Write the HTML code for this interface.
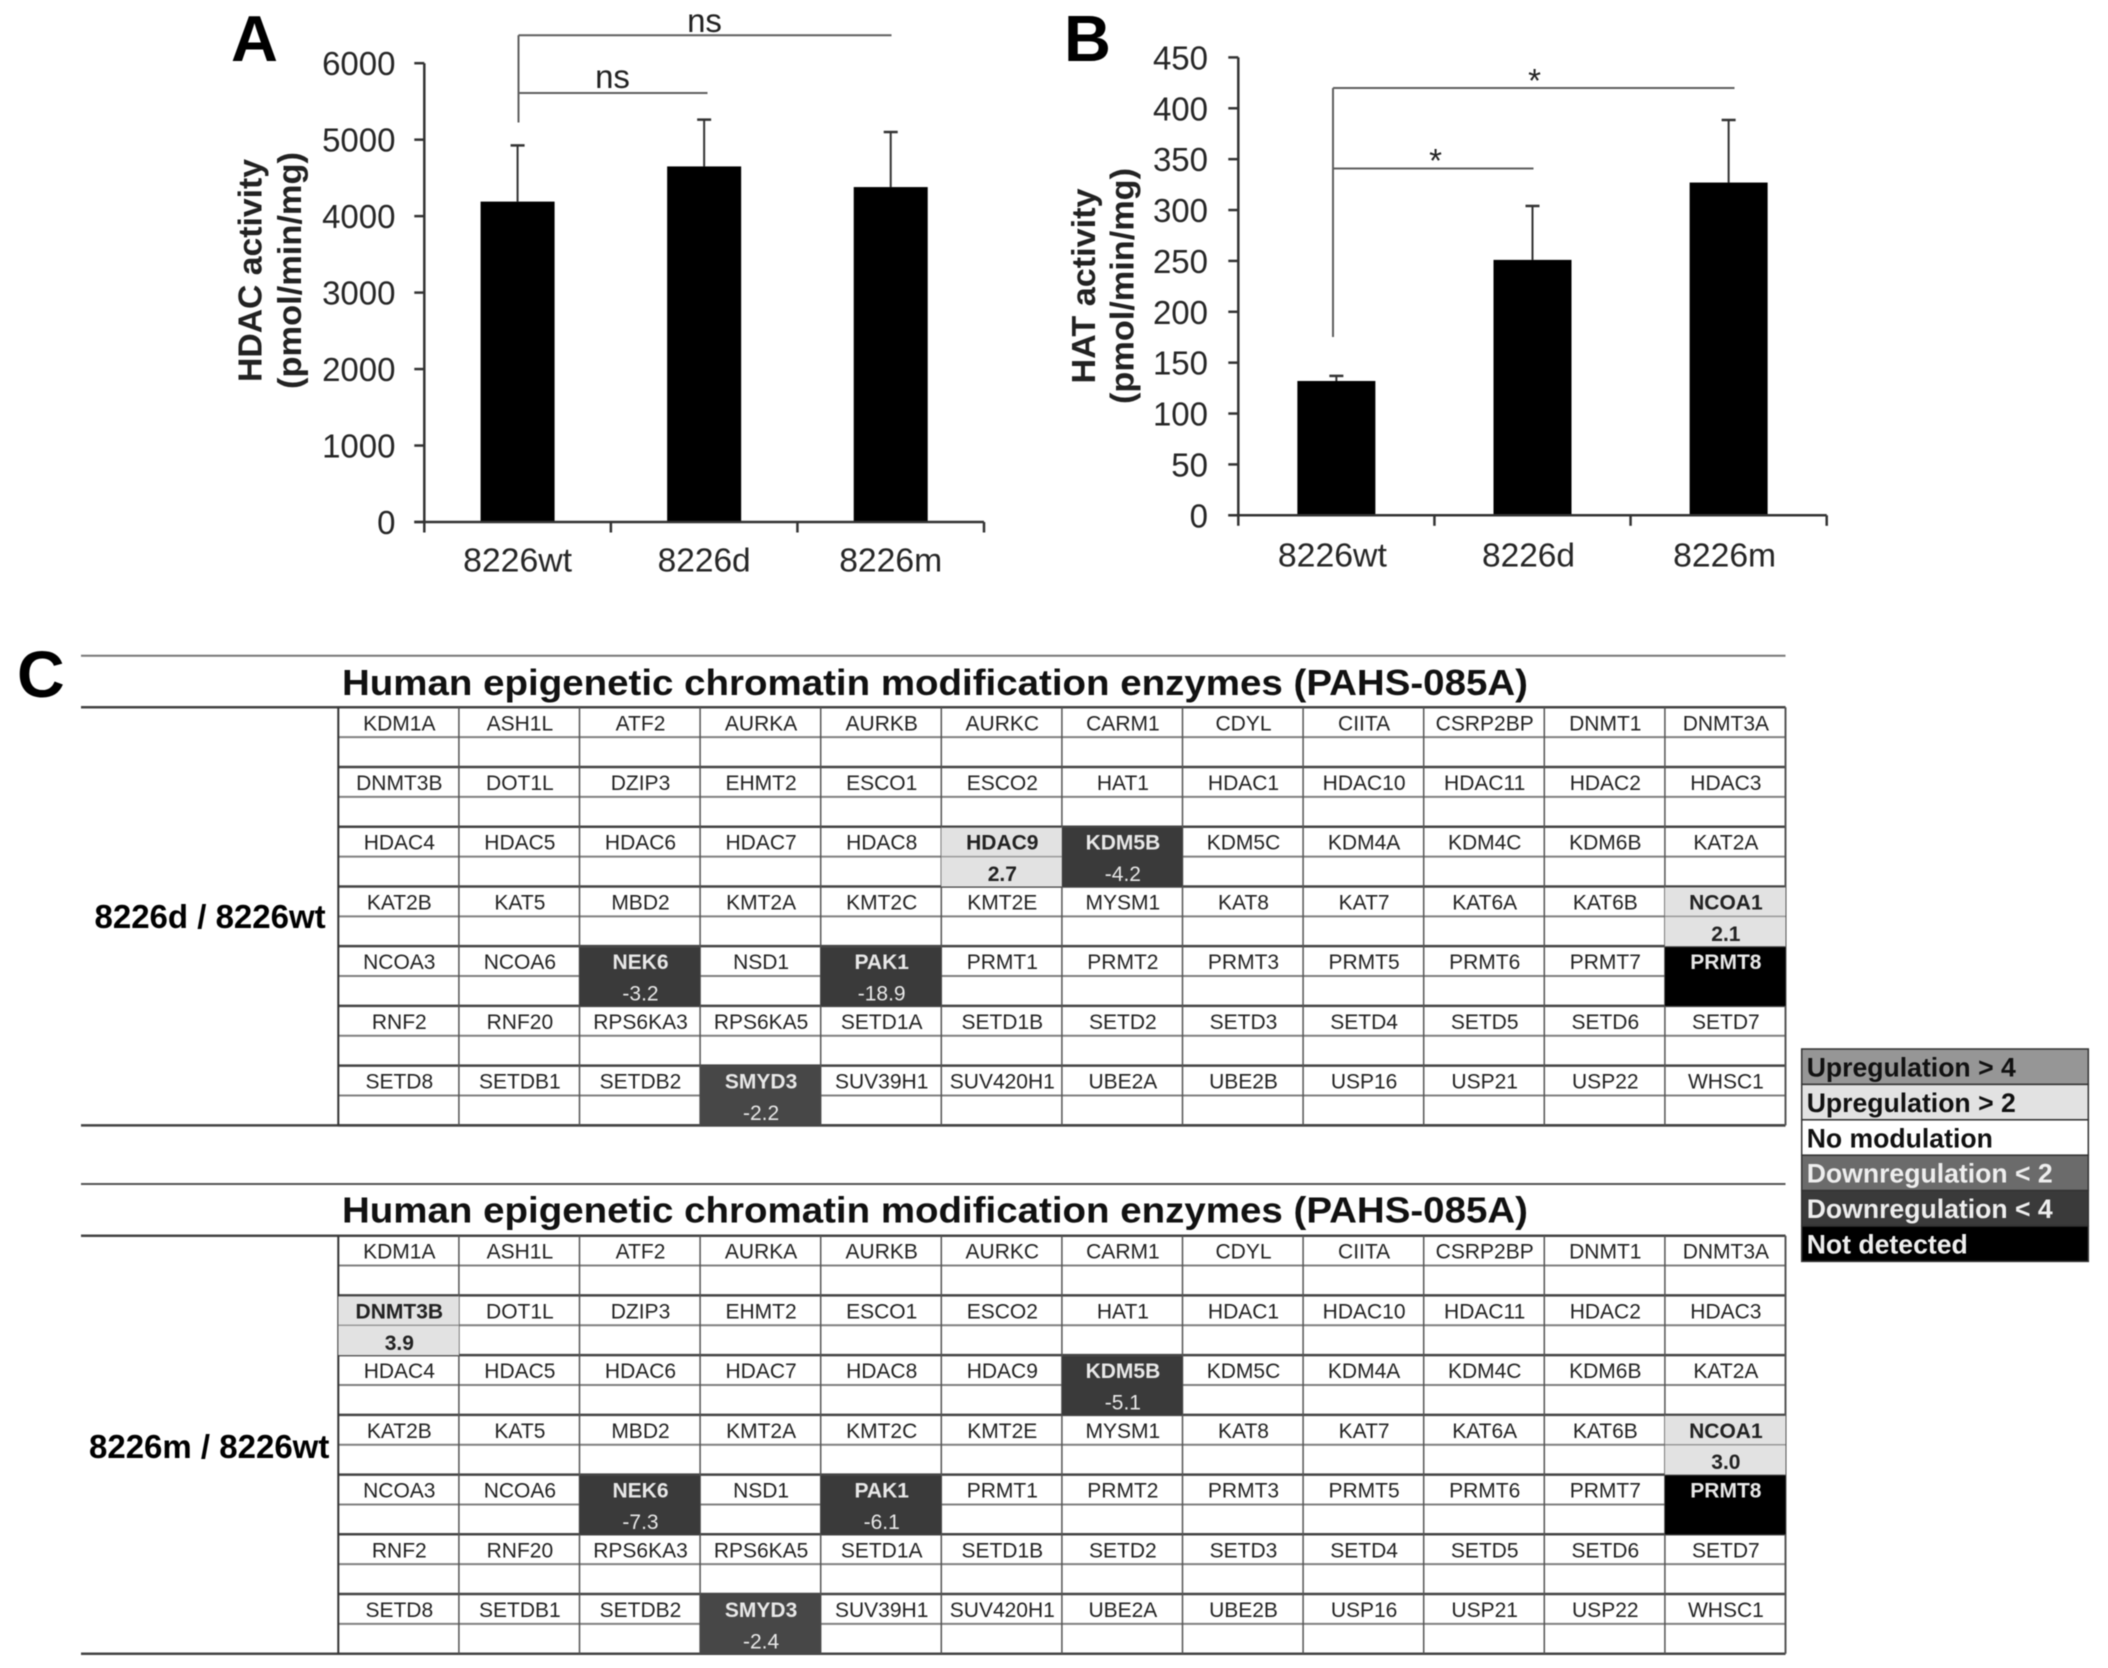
<!DOCTYPE html>
<html lang="en">
<head>
<meta charset="utf-8">
<title>HDAC and HAT activity with epigenetic enzyme array</title>
<style>
html,body{margin:0;padding:0;background:#fff;width:2108px;height:1668px;overflow:hidden}
svg{display:block;font-family:"Liberation Sans",Arial,sans-serif;filter:blur(0.6px)}
</style>
</head>
<body>
<svg id="fig" xmlns="http://www.w3.org/2000/svg" width="2108" height="1668" viewBox="0 0 2108 1668">
<rect width="2108" height="1668" fill="#fff"/>
<text x="231" y="61" font-size="65" font-weight="bold">A</text>
<text x="1064" y="61" font-size="65" font-weight="bold">B</text>
<text x="17" y="697" font-size="66" font-weight="bold">C</text>
</svg>
<script>
const chartACategories = ['8226wt', '8226d', '8226m'];
const chartAValues = [4190, 4650, 4380];
const chartAErrors = [735, 612, 720];
const chartATicks = [0, 1000, 2000, 3000, 4000, 5000, 6000];

const chartBCategories = ['8226wt', '8226d', '8226m'];
const chartBValues = [132, 251, 327];
const chartBErrors = [5, 53, 61.5];
const chartBTicks = [0, 50, 100, 150, 200, 250, 300, 350, 400, 450];

const enzymeGenes = [
'KDM1A','ASH1L','ATF2','AURKA','AURKB','AURKC','CARM1','CDYL','CIITA','CSRP2BP','DNMT1','DNMT3A',
'DNMT3B','DOT1L','DZIP3','EHMT2','ESCO1','ESCO2','HAT1','HDAC1','HDAC10','HDAC11','HDAC2','HDAC3',
'HDAC4','HDAC5','HDAC6','HDAC7','HDAC8','HDAC9','KDM5B','KDM5C','KDM4A','KDM4C','KDM6B','KAT2A',
'KAT2B','KAT5','MBD2','KMT2A','KMT2C','KMT2E','MYSM1','KAT8','KAT7','KAT6A','KAT6B','NCOA1',
'NCOA3','NCOA6','NEK6','NSD1','PAK1','PRMT1','PRMT2','PRMT3','PRMT5','PRMT6','PRMT7','PRMT8',
'RNF2','RNF20','RPS6KA3','RPS6KA5','SETD1A','SETD1B','SETD2','SETD3','SETD4','SETD5','SETD6','SETD7',
'SETD8','SETDB1','SETDB2','SMYD3','SUV39H1','SUV420H1','UBE2A','UBE2B','USP16','USP21','USP22','WHSC1'];
const foldChangeD = {HDAC9: '2.7', KDM5B: '-4.2', NCOA1: '2.1', NEK6: '-3.2', PAK1: '-18.9', SMYD3: '-2.2'};
const foldChangeM = {DNMT3B: '3.9', KDM5B: '-5.1', NCOA1: '3.0', NEK6: '-7.3', PAK1: '-6.1', SMYD3: '-2.4'};
const notDetectedGenes = ['PRMT8'];
const legendLabels = ['Upregulation > 4', 'Upregulation > 2', 'No modulation', 'Downregulation < 2', 'Downregulation < 4', 'Not detected'];

const svg = document.getElementById('fig');
const NS = 'http://www.w3.org/2000/svg';
function mk(tag, attrs, text) {
  const el = document.createElementNS(NS, tag);
  for (const k in attrs) el.setAttribute(k, attrs[k]);
  if (text !== undefined) el.textContent = text;
  svg.appendChild(el);
  return el;
}

function drawChart(c) {
  const yScale = v => c.y0 - (v / c.yMax) * (c.y0 - c.yTop);
  const band = (c.x1 - c.x0) / c.categories.length;
  const xCenter = i => c.x0 + (i + 0.5) * band;

  c.values.forEach((v, i) => {
    const bar = mk('rect', {x: xCenter(i) - c.barW / 2, y: yScale(v), width: c.barW, height: c.y0 - yScale(v), fill: '#000'});
    
    
    const top = yScale(v + c.errors[i]);
    const cx = xCenter(i);
    const stem = mk('line', {x1: cx, x2: cx, y1: yScale(v), y2: top, stroke: '#333', 'stroke-width': 2});
    
    
    const cap = mk('line', {x1: cx - 7, x2: cx + 7, y1: top, y2: top, stroke: '#333', 'stroke-width': 2.5});
    
    
    const lab = mk('text', {x: xCenter(i) + c.labelShift, y: c.labelY, 'font-size': 33, fill: '#262626', 'text-anchor': 'middle', 'textLength': c.labelW[i], lengthAdjust: 'spacingAndGlyphs'}, c.categories[i]);
    
    
  });

  const yAxis = mk('line', {x1: c.x0, x2: c.x0, y1: c.yTop, y2: c.y0 + 10.5, stroke: '#333', 'stroke-width': 2.5});
  
  
  const xAxis = mk('line', {x1: c.x0 - 10, x2: c.x1, y1: c.y0, y2: c.y0, stroke: '#333', 'stroke-width': 2.5});
  
  

  for (let i = 1; i <= c.categories.length; i++) {
    const tx = c.x0 + i * band;
    const t = mk('line', {x1: tx, x2: tx, y1: c.y0, y2: c.y0 + 10.5, stroke: '#333', 'stroke-width': 2.5});
    
    
  }
  c.ticks.forEach(v => {
    const t = mk('line', {x1: c.x0 - 10, x2: c.x0, y1: yScale(v), y2: yScale(v), stroke: '#333', 'stroke-width': 2.5});
    
    
    const l = mk('text', {x: c.tickRight, y: yScale(v) + 12, 'font-size': 33, fill: '#262626', 'text-anchor': 'end'}, String(v));
    
    
  });

  c.titles.forEach((s, i) => {
    const tt = mk('text', {transform: 'translate(' + c.titleX[i] + ',' + c.titleY + ') rotate(-90)', 'font-size': 33, 'font-weight': 'bold', fill: '#222', 'text-anchor': 'middle', textLength: c.titleLen[i], lengthAdjust: 'spacingAndGlyphs'}, s);
    
    
  });

  c.brackets.forEach(b => {
    const h = mk('line', {x1: c.bracketX, x2: b.x2, y1: b.y, y2: b.y, stroke: '#5f5f5f', 'stroke-width': 2});
    
    
    const m = mk('text', {x: b.lx, y: b.ly, 'font-size': b.size, fill: '#222', 'text-anchor': 'middle'}, b.text);
    
    
  });
  const v = mk('line', {x1: c.bracketX, x2: c.bracketX, y1: c.brackets[0].y, y2: c.bracketEnd, stroke: '#5f5f5f', 'stroke-width': 2});
  
  
}

drawChart({
  id: 'hdac-chart', categories: chartACategories, values: chartAValues, errors: chartAErrors, ticks: chartATicks,
  x0: 424.3, x1: 984, y0: 522, yTop: 63.2, yMax: 6000, barW: 74, labelY: 571.5, labelShift: 0, labelW: [109, 93, 103],
  tickRight: 395.5, titles: ['HDAC activity', '(pmol/min/mg)'], titleX: [261.5, 301], titleLen: [223, 237], titleY: 270.5,
  bracketX: 518.5, bracketEnd: 122.5,
  brackets: [
    {x2: 891.5, y: 35.2, text: 'ns', lx: 704.5, ly: 32, size: 33},
    {x2: 707.5, y: 93, text: 'ns', lx: 612.5, ly: 88, size: 33}
  ]
});
drawChart({
  id: 'hat-chart', categories: chartBCategories, values: chartBValues, errors: chartBErrors, ticks: chartBTicks,
  x0: 1238.3, x1: 1826.7, y0: 515.3, yTop: 57.4, yMax: 450, barW: 78, labelY: 566.5, labelShift: -4, labelW: [109, 93, 103],
  tickRight: 1208, titles: ['HAT activity', '(pmol/min/mg)'], titleX: [1095, 1133.5], titleLen: [195, 236], titleY: 286,
  bracketX: 1333, bracketEnd: 337,
  brackets: [
    {x2: 1734.5, y: 88, text: '*', lx: 1534.5, ly: 92, size: 33},
    {x2: 1533.5, y: 168.5, text: '*', lx: 1435.5, ly: 172, size: 33}
  ]
});

function fillFor(gene, fold) {
  if (notDetectedGenes.includes(gene)) return '#000';
  if (fold === undefined) return null;
  const v = parseFloat(fold);
  if (v > 4) return '#969696';
  if (v > 2) return '#e2e2e2';
  if (v < -3) return '#3a3a3a';
  return '#474747';
}

function drawTable(t) {
  const left = 338.3, colW = 120.6, rowH = 29.86, right = left + 12 * colW;
  const ruleTop = mk('line', {x1: 81, x2: right, y1: t.ruleTop, y2: t.ruleTop, stroke: t.ruleColor, 'stroke-width': 2});
  
  
  const title = mk('text', {x: 342, y: t.titleY, 'font-size': 36.5, 'font-weight': 'bold', fill: '#111', textLength: 1186, lengthAdjust: 'spacingAndGlyphs'}, 'Human epigenetic chromatin modification enzymes (PAHS-085A)');
  
  
  const ruleHead = mk('line', {x1: 81, x2: right, y1: t.top, y2: t.top, stroke: '#444', 'stroke-width': 2.5});
  
  
  const label = mk('text', {x: t.labelX, y: t.labelY, 'font-size': 33, 'font-weight': 'bold', fill: '#000'}, t.label);
  
  

  for (let r = 1; r <= 14; r++) {
    const y = t.top + r * rowH;
    const main = r % 2 === 0;
    const ln = mk('line', {x1: left, x2: right, y1: y, y2: y, stroke: main ? '#444' : '#808080', 'stroke-width': main ? 2.5 : 2});
    
    
  }
  const bottom = t.top + 14 * rowH;
  const ruleBottom = mk('line', {x1: 81, x2: right, y1: bottom, y2: bottom, stroke: '#444', 'stroke-width': 2.5});
  
  
  for (let c = 0; c <= 12; c++) {
    const x = left + c * colW;
    const ln = mk('line', {x1: x, x2: x, y1: t.top, y2: bottom, stroke: c === 0 ? '#333' : '#555', 'stroke-width': c === 0 || c === 12 ? 2 : 1.5});
    
    
  }

  enzymeGenes.forEach((g, i) => {
    const c = i % 12, r = Math.floor(i / 12);
    const x = left + c * colW, y = t.top + r * 2 * rowH;
    const fold = t.folds[g];
    const fill = fillFor(g, fold);
    const dark = fill === '#000' || fill === '#3a3a3a' || fill === '#474747';
    if (fill) {
      const bg = mk('rect', {x: x, y: y + 1, width: colW, height: 2 * rowH - 1, fill: fill});
      
      
      if (!dark) {
        const mid = mk('line', {x1: x, x2: x + colW, y1: y + rowH, y2: y + rowH, stroke: '#999', 'stroke-width': 1.5});
        
        
      }
    }
    const gt = mk('text', {x: x + colW / 2 + 0.7, y: y + 23, 'font-size': 21, 'text-anchor': 'middle', 'font-weight': fill ? 'bold' : 'normal', fill: dark ? '#e8e8e8' : '#222'}, g);
    
    
    if (fold !== undefined) {
      const ft = mk('text', {x: x + colW / 2 + 0.7, y: y + rowH + 24.5, 'font-size': 21, 'text-anchor': 'middle', 'font-weight': dark ? 'normal' : 'bold', fill: dark ? '#e8e8e8' : '#222'}, fold);
      
      
    }
  });
}

drawTable({id: 'table-8226d', ruleTop: 655.7, ruleColor: '#777', titleY: 695, top: 707.3, label: '8226d / 8226wt', labelX: 94.5, labelY: 928, folds: foldChangeD});
drawTable({id: 'table-8226m', ruleTop: 1184, ruleColor: '#555', titleY: 1222.5, top: 1235.7, label: '8226m / 8226wt', labelX: 89, labelY: 1458, folds: foldChangeM});

const legendFills = ['#969696', '#e2e2e2', '#ffffff', '#6b6b6b', '#3a3a3a', '#000000'];
const legendLight = [false, false, false, true, true, true];
legendLabels.forEach((s, i) => {
  const lx = 1801.7, ly = 1049, lw = 286.6, lh = 35.4;
  const r = mk('rect', {x: lx, y: ly + i * lh, width: lw, height: lh, fill: legendFills[i], stroke: '#333', 'stroke-width': 1.5});
  
  
  const l = mk('text', {x: lx + 5, y: ly + i * lh + 27.5, 'font-size': 26.6, 'font-weight': 'bold', fill: legendLight[i] ? '#eee' : '#111'}, s);
  
  
});
</script>
</body>
</html>
